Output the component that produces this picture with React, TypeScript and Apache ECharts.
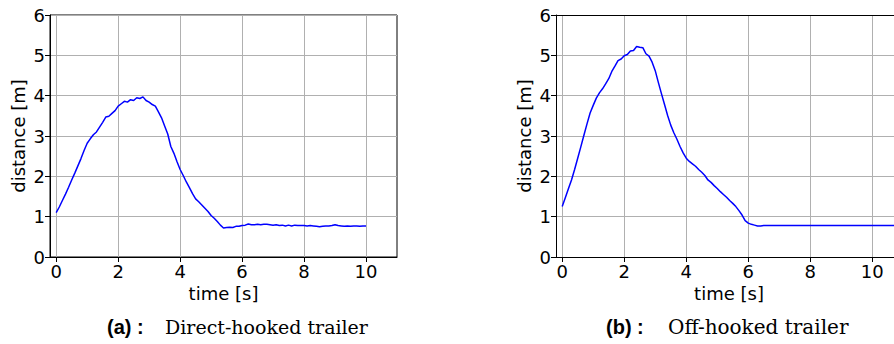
import React, { useEffect, useRef } from "react";
import * as echarts from "echarts";

const timeSteps = [
  0.0, 0.1, 0.2, 0.3, 0.4, 0.5, 0.6, 0.7, 0.8, 0.9,
  1.0, 1.1, 1.2, 1.3, 1.4, 1.5, 1.6, 1.7, 1.8, 1.9,
  2.0, 2.1, 2.2, 2.3, 2.4, 2.5, 2.6, 2.7, 2.8, 2.9,
  3.0, 3.1, 3.2, 3.3, 3.4, 3.5, 3.6, 3.7, 3.8, 3.9,
  4.0, 4.1, 4.2, 4.3, 4.4, 4.5, 4.6, 4.7, 4.8, 4.9,
  5.0, 5.1, 5.2, 5.3, 5.4, 5.5, 5.6, 5.7, 5.8, 5.9,
  6.0, 6.1, 6.2, 6.3, 6.4, 6.5, 6.6, 6.7, 6.8, 6.9,
  7.0, 7.1, 7.2, 7.3, 7.4, 7.5, 7.6, 7.7, 7.8, 7.9,
  8.0, 8.1, 8.2, 8.3, 8.4, 8.5, 8.6, 8.7, 8.8, 8.9,
  9.0, 9.1, 9.2, 9.3, 9.4, 9.5, 9.6, 9.7, 9.8, 9.9,
  10.0, 10.1, 10.2, 10.3, 10.4, 10.5, 10.6, 10.7,
];

// (a) Direct-hooked trailer, 0 .. 10 s
const distanceDirect = [
  1.10, 1.24, 1.40, 1.56, 1.73, 1.91, 2.08, 2.26, 2.44, 2.64,
  2.82, 2.93, 3.03, 3.10, 3.22, 3.34, 3.47, 3.49, 3.56, 3.63,
  3.74, 3.80, 3.86, 3.84, 3.90, 3.88, 3.95, 3.93, 3.97, 3.88,
  3.84, 3.78, 3.74, 3.60, 3.45, 3.25, 3.05, 2.74, 2.57, 2.36,
  2.17, 2.02, 1.86, 1.72, 1.57, 1.44, 1.37, 1.29, 1.21, 1.13,
  1.03, 0.96, 0.88, 0.79, 0.72, 0.73, 0.74, 0.73, 0.76, 0.76,
  0.78, 0.79, 0.82, 0.80, 0.80, 0.81, 0.80, 0.81, 0.81, 0.80,
  0.79, 0.80, 0.78, 0.79, 0.77, 0.79, 0.77, 0.79, 0.78, 0.78,
  0.78, 0.77, 0.78, 0.77, 0.76, 0.75, 0.76, 0.77, 0.77, 0.78,
  0.80, 0.78, 0.77, 0.76, 0.77, 0.76, 0.77, 0.77, 0.76, 0.77,
  0.77,
];

// (b) Off-hooked trailer, 0 .. 10.7 s
const distanceOff = [
  1.25, 1.47, 1.69, 1.91, 2.17, 2.45, 2.73, 3.02, 3.30, 3.57,
  3.76, 3.94, 4.07, 4.17, 4.29, 4.42, 4.60, 4.73, 4.87, 4.91,
  4.99, 5.02, 5.11, 5.12, 5.22, 5.20, 5.19, 5.04, 4.98, 4.83,
  4.62, 4.33, 4.05, 3.78, 3.51, 3.27, 3.08, 2.92, 2.74, 2.58,
  2.45, 2.37, 2.31, 2.25, 2.17, 2.10, 2.02, 1.91, 1.85, 1.77,
  1.70, 1.62, 1.55, 1.48, 1.40, 1.33, 1.25, 1.15, 1.04, 0.90,
  0.84, 0.81, 0.79, 0.77, 0.77, 0.78, 0.78, 0.78, 0.78, 0.78,
  0.78, 0.78, 0.78, 0.78, 0.78, 0.78, 0.78, 0.78, 0.78, 0.78,
  0.78, 0.78, 0.78, 0.78, 0.78, 0.78, 0.78, 0.78, 0.78, 0.78,
  0.78, 0.78, 0.78, 0.78, 0.78, 0.78, 0.78, 0.78, 0.78, 0.78,
  0.78, 0.78, 0.78, 0.78, 0.78, 0.78, 0.78, 0.78,
];

const xTicks = [0, 2, 4, 6, 8, 10];
const xLabel = "time [s]";
const yLabel = "distance [m]";
const panelTags = ["(a) :", "(b) :"];
const panelTitles = ["Direct-hooked trailer", "Off-hooked trailer"];

const SANS = "DejaVu Sans";
const X_MIN = -0.2;
const X_MAX_A = 11;
const X_MAX_B = 10.7;

function makeX(gridIndex: number, max: number, withName: boolean) {
  return {
    type: "value",
    gridIndex,
    min: X_MIN,
    max,
    axisLine: { show: true, onZero: false, lineStyle: { color: "#000", width: 1 } },
    axisTick: { show: true, length: 5, lineStyle: { color: "#000", width: 1 }, customValues: xTicks },
    axisLabel: { show: true, customValues: xTicks, fontSize: 18, fontFamily: SANS, color: "#000", margin: 5 },
    splitLine: { show: true, lineStyle: { color: "#b0b0b0", width: 1 } },
    name: withName ? xLabel : "",
    nameLocation: "middle",
    nameGap: 27,
    nameTextStyle: { fontSize: 18, fontFamily: SANS, color: "#000" },
  };
}

function makeTopFrame(gridIndex: number, max: number) {
  return {
    type: "value",
    gridIndex,
    position: "top",
    min: X_MIN,
    max,
    axisLine: { show: true, onZero: false, lineStyle: { color: "#000", width: 1 } },
    axisTick: { show: false },
    axisLabel: { show: false },
    splitLine: { show: false },
  };
}

function makeY(gridIndex: number) {
  return {
    type: "value",
    gridIndex,
    min: 0,
    max: 6,
    interval: 1,
    axisLine: { show: true, onZero: false, lineStyle: { color: "#000", width: 1 } },
    axisTick: { show: true, length: 5, lineStyle: { color: "#000", width: 1 } },
    axisLabel: { show: true, fontSize: 18, fontFamily: SANS, color: "#000", margin: 5 },
    splitLine: { show: true, lineStyle: { color: "#b0b0b0", width: 1 } },
    name: yLabel,
    nameLocation: "middle",
    nameGap: 23,
    nameTextStyle: { fontSize: 18, fontFamily: SANS, color: "#000" },
  };
}

export default function App() {
  const ref = useRef<HTMLDivElement>(null);
  useEffect(() => {
    if (!ref.current) return;
    const chart = echarts.init(ref.current, null, { renderer: "svg" });
    const dataA = distanceDirect.map((d, i) => [timeSteps[i], d]);
    const dataB = distanceOff.map((d, i) => [timeSteps[i], d]);
    chart.setOption({
      animation: false,
      backgroundColor: "#fff",
      grid: [
        { left: 50, top: 15, width: 347, height: 242, show: true, borderColor: "#000", borderWidth: 1, backgroundColor: "transparent" },
        { left: 556, top: 15, width: 338, height: 242, show: false },
      ],
      xAxis: [makeX(0, X_MAX_A, true), makeX(1, X_MAX_B, false), makeTopFrame(1, X_MAX_B)],
      yAxis: [makeY(0), makeY(1)],
      series: [
        {
          type: "line",
          xAxisIndex: 0,
          yAxisIndex: 0,
          data: dataA,
          showSymbol: false,
          symbol: "none",
          lineStyle: { color: "#0000ff", width: 1.5 },
          clip: true,
        },
        {
          type: "line",
          xAxisIndex: 1,
          yAxisIndex: 1,
          data: dataB,
          showSymbol: false,
          symbol: "none",
          lineStyle: { color: "#0000ff", width: 1.5 },
          clip: true,
        },
      ],
      graphic: [
        { type: "text", x: 729, y: 284, style: { text: xLabel, font: '18px "DejaVu Sans"', fill: "#000", align: "center", verticalAlign: "top" } },
        { type: "text", x: 107, y: 327, style: { text: panelTags[0], font: 'bold 20px "Liberation Sans"', fill: "#000", verticalAlign: "middle" } },
        { type: "text", x: 165, y: 327, style: { text: panelTitles[0], font: '19px "DejaVu Serif"', fill: "#000", verticalAlign: "middle" } },
        { type: "text", x: 606, y: 327, style: { text: panelTags[1], font: 'bold 20px "Liberation Sans"', fill: "#000", verticalAlign: "middle" } },
        { type: "text", x: 668, y: 327, style: { text: panelTitles[1], font: '20px "DejaVu Serif"', fill: "#000", verticalAlign: "middle" } },
      ],
    });
    return () => chart.dispose();
  }, []);
  return (
    <div
      ref={ref}
      style={{ position: "absolute", left: 0, top: 0, width: 894, height: 344, background: "#fff" }}
    />
  );
}
